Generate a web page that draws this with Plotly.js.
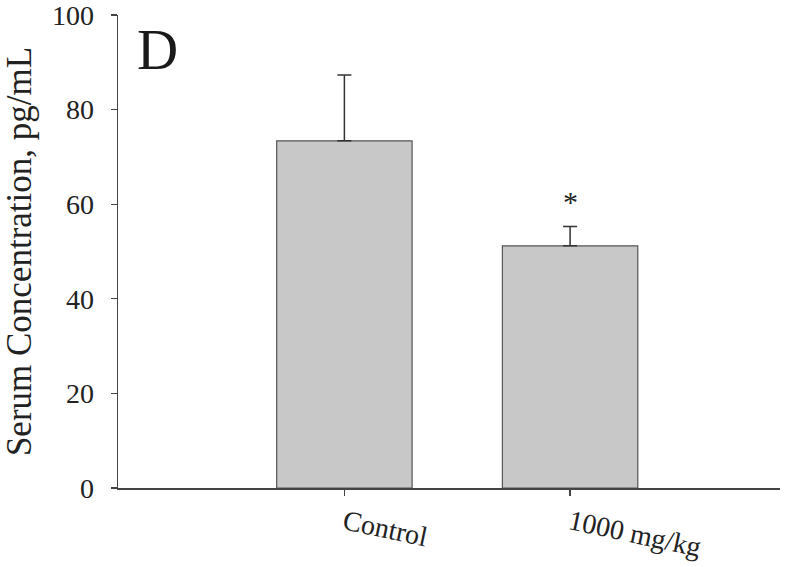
<!DOCTYPE html>
<html>
<head>
<meta charset="utf-8">
<script src="https://cdn.plot.ly/plotly-3.0.1.min.js"></script>
<style>html,body{margin:0;padding:0;background:#fff;}#chart{width:800px;height:567px;}</style>
</head>
<body>
<div id="chart"></div>
<script>
const categories = ["Control", "1000 mg/kg"];
const means = [73.4, 51.2];
const errors = [13.9, 4.1];
const yTicks = [0, 20, 40, 60, 80, 100];
const panelLabel = "D";
const yTitle = "Serum Concentration, pg/mL";
const sigMarks = ["", "*"];
const sigY = [0, 60.5];

const font = "Liberation Serif, Times New Roman, serif";
const trace = {
  type: "bar",
  x: [0, 1],
  y: means,
  width: 0.6,
  marker: {color: "#c8c8c8", line: {color: "#555555", width: 1.2}},
  error_y: {type: "data", array: errors, arrayminus: [0, 0], symmetric: false, color: "#333333", thickness: 1.5, width: 7},
  hoverinfo: "none"
};
const annotations = [{
  xref: "paper", yref: "paper", x: 0.025, y: 0.998, xanchor: "left", yanchor: "top",
  text: panelLabel, showarrow: false, font: {family: font, size: 57, color: "#1a1a1a"}
}];
sigMarks.forEach((m, i) => {
  if (m) annotations.push({x: i, y: sigY[i], xref: "x", yref: "y", text: m, showarrow: false,
    font: {family: font, size: 30, color: "#222"}, yanchor: "middle"});
});
const layout = {
  width: 800, height: 567,
  margin: {l: 118, r: 20, t: 15, b: 79},
  paper_bgcolor: "#fff", plot_bgcolor: "#fff",
  showlegend: false,
  font: {family: font, color: "#222"},
  xaxis: {
    range: [-1.003, 1.93], tickmode: "array", tickvals: [0, 1], ticktext: categories,
    tickangle: 12, ticks: "outside", ticklen: 6, tickcolor: "#444", tickwidth: 1.2,
    showline: true, linecolor: "#444", linewidth: 1.5, showgrid: false, zeroline: false,
    tickfont: {family: font, size: 28, color: "#222"}, fixedrange: true
  },
  yaxis: {
    range: [0, 100], tickmode: "array", tickvals: yTicks,
    ticks: "outside", ticklen: 6, tickcolor: "#444", tickwidth: 1.2,
    showline: true, linecolor: "#444", linewidth: 1.5, showgrid: false, zeroline: false,
    tickfont: {family: font, size: 28, color: "#222"}, ticklabelstandoff: 11,
    ticklabeloverflow: "allow",
    title: {text: yTitle, font: {family: font, size: 35, color: "#222"}, standoff: 14},
    fixedrange: true
  },
  annotations: annotations
};
Plotly.newPlot("chart", [trace], layout, {displayModeBar: false, staticPlot: true});
</script>
</body>
</html>
